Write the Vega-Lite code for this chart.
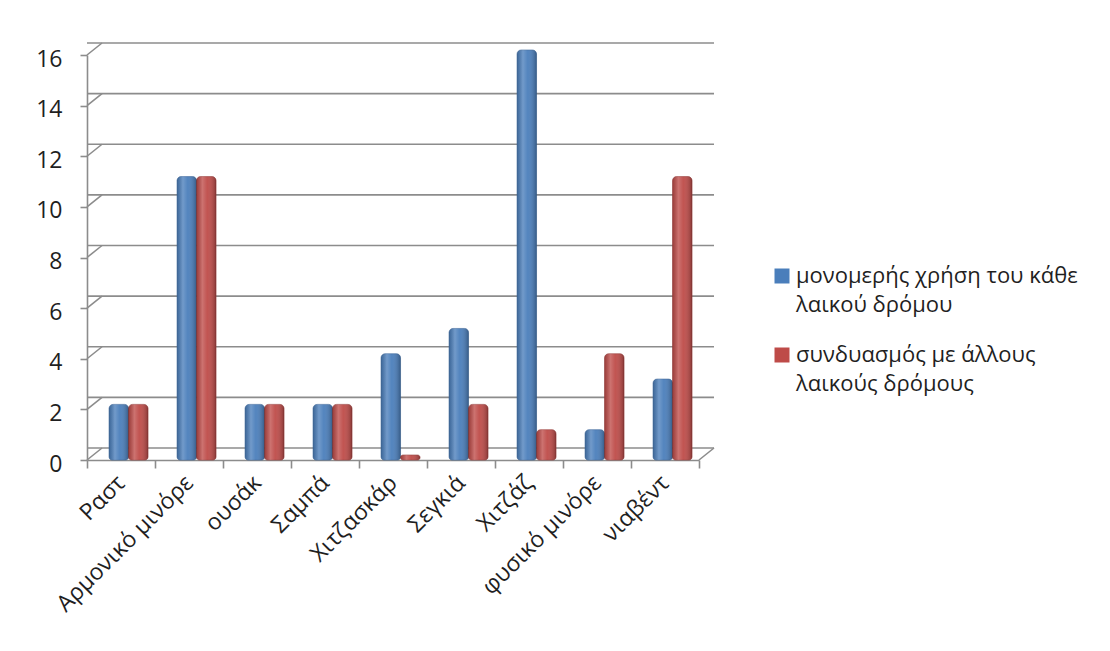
{
  "$schema": "https://vega.github.io/schema/vega-lite/v6.json",
  "autosize": "none",
  "width": 612,
  "height": 405,
  "padding": {"left": 87, "top": 55, "right": 411, "bottom": 191},
  "background": "white",
  "datasets": {
    "bars": [
      {"dromos": "Ραστ", "seira": "A", "timi": 2},
      {"dromos": "Ραστ", "seira": "B", "timi": 2},
      {"dromos": "Αρμονικό μινόρε", "seira": "A", "timi": 11},
      {"dromos": "Αρμονικό μινόρε", "seira": "B", "timi": 11},
      {"dromos": "ουσάκ", "seira": "A", "timi": 2},
      {"dromos": "ουσάκ", "seira": "B", "timi": 2},
      {"dromos": "Σαμπά", "seira": "A", "timi": 2},
      {"dromos": "Σαμπά", "seira": "B", "timi": 2},
      {"dromos": "Χιτζασκάρ", "seira": "A", "timi": 4},
      {"dromos": "Χιτζασκάρ", "seira": "B", "timi": 0},
      {"dromos": "Σεγκιά", "seira": "A", "timi": 5},
      {"dromos": "Σεγκιά", "seira": "B", "timi": 2},
      {"dromos": "Χιτζάζ", "seira": "A", "timi": 16},
      {"dromos": "Χιτζάζ", "seira": "B", "timi": 1},
      {"dromos": "φυσικό μινόρε", "seira": "A", "timi": 1},
      {"dromos": "φυσικό μινόρε", "seira": "B", "timi": 4},
      {"dromos": "νιαβέντ", "seira": "A", "timi": 3},
      {"dromos": "νιαβέντ", "seira": "B", "timi": 11}
    ],
    "grid": [
      {"v": 0}, {"v": 2}, {"v": 4}, {"v": 6}, {"v": 8},
      {"v": 10}, {"v": 12}, {"v": 14}, {"v": 16}
    ]
  },
  "layer": [
    {
      "data": {"name": "grid"},
      "mark": {"type": "rule", "color": "#8c8c8c", "strokeWidth": 1.6, "xOffset": 15, "x2Offset": 15, "yOffset": -12},
      "encoding": {
        "y": {"field": "v", "type": "quantitative", "title": null}
      }
    },
    {
      "data": {"name": "grid"},
      "mark": {"type": "rule", "color": "#8c8c8c", "strokeWidth": 1.6, "x2Offset": 15, "y2Offset": -12},
      "encoding": {
        "x": {"datum": "Ραστ", "type": "nominal", "bandPosition": 0, "title": null},
        "x2": {"datum": "Ραστ", "bandPosition": 0},
        "y": {"field": "v", "type": "quantitative", "title": null},
        "y2": {"field": "v"}
      }
    },
    {
      "data": {"name": "grid"},
      "transform": [{"filter": "datum.v == 0"}],
      "mark": {"type": "rule", "color": "#8c8c8c", "strokeWidth": 1.6, "x2Offset": 15, "y2Offset": -12},
      "encoding": {
        "x": {"datum": "νιαβέντ", "type": "nominal", "bandPosition": 1, "title": null},
        "x2": {"datum": "νιαβέντ", "bandPosition": 1},
        "y": {"field": "v", "type": "quantitative", "title": null},
        "y2": {"field": "v"}
      }
    },
    {
      "data": {"name": "bars"},
      "mark": {"type": "bar", "cornerRadiusTopLeft": 4, "cornerRadiusTopRight": 4, "cornerRadiusBottomLeft": 3, "cornerRadiusBottomRight": 3, "strokeWidth": 0.6, "yOffset": -5, "y2Offset": -5},
      "encoding": {
        "x": {
          "field": "dromos",
          "type": "nominal",
          "sort": null,
          "scale": {
            "domain": ["Ραστ", "Αρμονικό μινόρε", "ουσάκ", "Σαμπά", "Χιτζασκάρ", "Σεγκιά", "Χιτζάζ", "φυσικό μινόρε", "νιαβέντ"],
            "paddingInner": 0, "paddingOuter": 0
          },
          "axis": {
            "title": null,
            "labelAngle": -45,
            "labelFont": "Open Sans",
            "labelFontSize": 23,
            "labelColor": "#1f1f1f",
            "labelPadding": 11,
            "labelLimit": 400,
            "domainColor": "#8c8c8c",
            "domainWidth": 1.6,
            "tickColor": "#8c8c8c",
            "tickWidth": 1.6,
            "tickSize": 8,
            "tickBand": "extent",
            "grid": false
          }
        },
        "xOffset": {"field": "seira", "type": "nominal", "scale": {"paddingInner": 0, "paddingOuter": 0.744, "align": 0.76}},
        "y": {
          "field": "timi",
          "type": "quantitative",
          "stack": null,
          "scale": {"domain": [0, 16], "nice": false},
          "axis": {
            "title": null,
            "values": [0, 2, 4, 6, 8, 10, 12, 14, 16],
            "labelFont": "Open Sans",
            "labelFontSize": 23,
            "labelColor": "#1f1f1f",
            "labelPadding": 18,
            "labelOffset": 4,
            "domainColor": "#8c8c8c",
            "domainWidth": 1.6,
            "tickColor": "#8c8c8c",
            "tickWidth": 1.6,
            "tickSize": 7,
            "grid": false
          }
        },
        "color": {
          "field": "seira",
          "type": "nominal",
          "scale": {"domain": ["A", "B"], "range": ["#4A7EBB", "#BE4B48"]},
          "legend": {
            "orient": "none",
            "legendX": 684,
            "legendY": 210,
            "title": null,
            "symbolType": "square",
            "symbolSize": 225,
            "symbolStrokeWidth": 0,
            "labelFont": "Open Sans",
            "labelFontSize": 22,
            "labelColor": "#1f1f1f",
            "labelLimit": 400,
            "labelOffset": 3,
            "rowPadding": 28,
            "labelExpr": "datum.value == 'A' ? ['μονομερής χρήση του κάθε', 'λαικού δρόμου'] : ['συνδυασμός με άλλους', 'λαικούς δρόμους']"
          }
        },
        "stroke": {
          "field": "seira",
          "type": "nominal",
          "scale": {"domain": ["A", "B"], "range": ["#3A6598", "#963C3A"]},
          "legend": null
        }
      }
    },
    {
      "data": {"name": "bars"},
      "mark": {
        "type": "bar",
        "cornerRadiusTopLeft": 4, "cornerRadiusTopRight": 4, "cornerRadiusBottomLeft": 3, "cornerRadiusBottomRight": 3,
        "yOffset": -5, "y2Offset": -5,
        "fill": {
          "gradient": "linear", "x1": 0, "x2": 1, "y1": 0, "y2": 0,
          "stops": [
            {"offset": 0, "color": "rgba(0,0,0,0.18)"},
            {"offset": 0.3, "color": "rgba(255,255,255,0.22)"},
            {"offset": 0.55, "color": "rgba(255,255,255,0.05)"},
            {"offset": 1, "color": "rgba(0,0,0,0.28)"}
          ]
        }
      },
      "encoding": {
        "x": {"field": "dromos", "type": "nominal", "sort": null, "title": null},
        "xOffset": {"field": "seira", "type": "nominal"},
        "y": {"field": "timi", "type": "quantitative", "stack": null, "title": null}
      }
    }
  ],
  "resolve": {"scale": {"x": "shared", "y": "shared"}},
  "config": {
    "view": {"stroke": null},
    "style": {"guide-label": {"lineHeight": 29}}
  }
}
